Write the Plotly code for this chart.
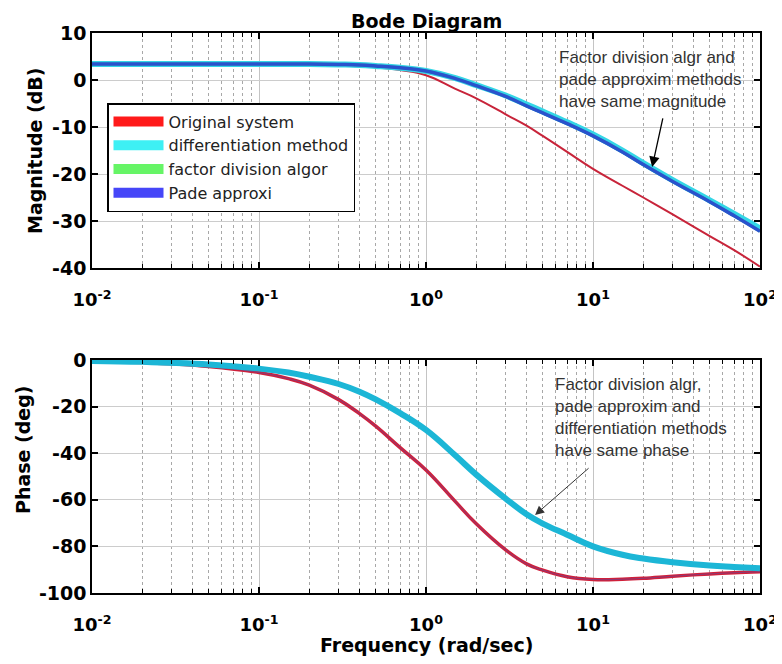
import math
import plotly.graph_objects as go
from plotly.subplots import make_subplots

# ---- data ----
freq = [0.01, 0.02, 0.05, 0.1, 0.15, 0.2, 0.3, 0.4, 0.5, 0.7, 1, 1.5, 2, 3, 4, 5, 7, 10, 15, 20, 30, 50, 70, 100]

mag_original = [3.3, 3.3, 3.3, 3.3, 3.3, 3.2, 3.1, 2.9, 2.7, 2.1, 1.0, -1.9, -3.9, -7.3, -9.7, -11.9, -15.3,
                -18.9, -22.5, -25.0, -28.6, -33.2, -36.2, -39.7]
mag_diff = [3.4, 3.4, 3.4, 3.4, 3.4, 3.4, 3.3, 3.2, 3.0, 2.6, 1.9, 0.4, -1.1, -3.3, -5.2, -6.7, -9.0, -11.6,
            -15.0, -17.7, -21.3, -25.6, -28.5, -31.6]
mag_factor = [3.4, 3.4, 3.4, 3.4, 3.4, 3.4, 3.3, 3.2, 3.0, 2.6, 1.9, 0.3, -1.2, -3.5, -5.5, -7.0, -9.3, -11.9,
              -15.3, -18.0, -21.6, -25.9, -28.9, -32.2]
mag_pade = [3.4, 3.4, 3.4, 3.4, 3.4, 3.4, 3.3, 3.2, 3.0, 2.6, 1.9, 0.3, -1.2, -3.5, -5.5, -7.0, -9.3, -11.9,
            -15.3, -18.0, -21.6, -25.9, -28.9, -32.2]

ph_original = [-0.6, -1.1, -2.8, -5.4, -8.0, -10.8, -17.0, -23.0, -28.4, -37.6, -47.2, -60.8, -70.3, -81.5,
               -87.5, -90.2, -93.0, -94.2, -94.1, -93.7, -92.8, -91.8, -91.3, -90.9]
ph_approx = [-0.4, -0.8, -1.9, -3.7, -5.4, -7.2, -10.3, -13.6, -16.9, -22.8, -30.0, -41.0, -49.2, -59.5,
             -66.2, -70.2, -75.0, -80.0, -83.6, -85.2, -86.8, -88.2, -88.8, -89.4]

series_names = ["Original system", "differentiation method", "factor division algor", "Pade approxi"]
legend_colors = ["#ff1a1a", "#3ef0f4", "#66f566", "#4646f8"]

x_tickvals = [0.01, 0.1, 1, 10, 100]
x_ticktext = ["10<sup>-2</sup>", "10<sup>-1</sup>", "10<sup>0</sup>", "10<sup>1</sup>", "10<sup>2</sup>"]
mag_ticks = [10, 0, -10, -20, -30, -40]
mag_ticktext = ["10", "0", "-10", "-20", "-30", "-40"]
ph_ticks = [0, -20, -40, -60, -80, -100]
ph_ticktext = ["0", "-20", "-40", "-60", "-80", "-100"]

# ---- figure (page has an 8px body margin) ----
OFF = 8
W, H = 782 - OFF, 664 - OFF
ML, MR, MT, MB = 92 - OFF, 22, 33 - OFF, 71
PW, PH = W - ML - MR, H - MT - MB


def px2x(px):
    return (px - OFF - ML) / PW


def py2y(py):
    return 1 - (py - OFF - MT) / PH


fig = make_subplots(rows=2, cols=1, shared_xaxes=False, vertical_spacing=0.05)


def spline(color, width):
    return dict(color=color, width=width, shape="spline", smoothing=1.2)


# magnitude
fig.add_trace(go.Scatter(x=freq, y=mag_original, mode="lines", line=spline("#c8243a", 2),
                         showlegend=False), row=1, col=1)
fig.add_trace(go.Scatter(x=freq, y=mag_diff, mode="lines", line=spline("#34d6e6", 6),
                         showlegend=False), row=1, col=1)
fig.add_trace(go.Scatter(x=freq, y=mag_factor, mode="lines", line=spline("#3cc8a8", 3),
                         showlegend=False), row=1, col=1)
fig.add_trace(go.Scatter(x=freq, y=mag_pade, mode="lines", line=spline("#2a52cc", 3.5),
                         showlegend=False), row=1, col=1)

# phase
fig.add_trace(go.Scatter(x=freq, y=ph_original, mode="lines", line=spline("#d0203a", 3.5),
                         showlegend=False), row=2, col=1)
fig.add_trace(go.Scatter(x=freq, y=ph_original, mode="lines", line=spline("#8a3a78", 1),
                         showlegend=False), row=2, col=1)
fig.add_trace(go.Scatter(x=freq, y=ph_approx, mode="lines", line=spline("#40d0a0", 3),
                         showlegend=False), row=2, col=1)
fig.add_trace(go.Scatter(x=freq, y=ph_approx, mode="lines", line=spline("#1cb6d6", 6),
                         showlegend=False), row=2, col=1)

# legend-only entries
for name, col in zip(series_names, legend_colors):
    fig.add_trace(go.Scatter(x=[None], y=[None], mode="lines", name=name,
                             line=dict(color=col, width=16)), row=1, col=1)

minor_vals = [m * 10.0 ** e for e in range(-2, 2) for m in range(2, 10)]
bold = dict(family="DejaVu Sans", size=19, color="black", weight="bold")
tickbold = dict(family="DejaVu Sans", size=18, color="black", weight="bold")

xcommon = dict(type="log", range=[-2, 2], tickvals=x_tickvals, ticktext=x_ticktext,
               showline=True, linecolor="black", linewidth=1.5, mirror="ticks",
               ticks="inside", ticklen=6, tickwidth=1.5, tickcolor="black",
               showgrid=True, gridcolor="#c4c4c4", gridwidth=1,
               tickfont=tickbold, ticklabelstandoff=15, zeroline=False,
               minor=dict(tickvals=minor_vals, ticks="inside", ticklen=4, tickcolor="black", tickwidth=1,
                          showgrid=True, gridcolor="#a8a8a8", griddash="dot", gridwidth=1))
ycommon = dict(showline=True, linecolor="black", linewidth=1.5, mirror="ticks",
               ticks="inside", ticklen=6, tickwidth=1.5, tickcolor="black",
               showgrid=True, gridcolor="#cccccc", gridwidth=1, zeroline=False,
               tickfont=bold, ticklabelstandoff=0)

fig.update_xaxes(**xcommon)
fig.update_yaxes(**ycommon)
fig.update_yaxes(range=[-40, 10], tickvals=mag_ticks, ticktext=mag_ticktext, domain=[py2y(268), 1], row=1, col=1)
fig.update_yaxes(range=[-100, 0], tickvals=ph_ticks, ticktext=ph_ticktext, domain=[0, py2y(360)], row=2, col=1)

fig.update_layout(
    width=W, height=H,
    margin=dict(l=ML, r=MR, t=MT, b=MB, autoexpand=False),
    paper_bgcolor="white", plot_bgcolor="white",
    font=dict(family="Liberation Sans, Arial", color="black"),
    showlegend=True,
    legend=dict(x=px2x(107), y=py2y(103), xanchor="left", yanchor="top",
                bgcolor="white", bordercolor="black", borderwidth=1.5,
                font=dict(family="DejaVu Sans", size=16, color="#222"),
                tracegroupgap=0, itemwidth=50),
)

annotations = [
    dict(text="Bode Diagram", x=px2x(426), y=py2y(21), xref="paper", yref="paper", showarrow=False,
         font=bold, xanchor="center", yanchor="middle"),
    dict(text="Frequency (rad/sec)", x=px2x(426), y=py2y(645), xref="paper", yref="paper", showarrow=False,
         font=bold, xanchor="center", yanchor="middle"),
    dict(text="Magnitude (dB)", x=px2x(35), y=py2y(150), xref="paper", yref="paper", showarrow=False,
         font=bold, textangle=-90, xanchor="center", yanchor="middle"),
    dict(text="Phase (deg)", x=px2x(23), y=py2y(450), xref="paper", yref="paper", showarrow=False,
         font=bold, textangle=-90, xanchor="center", yanchor="middle"),
    dict(text="Factor division algr and<br>pade approxim methods<br>have same magnitude",
         x=px2x(557), y=py2y(46), xref="paper", yref="paper", showarrow=False, align="left",
         xanchor="left", yanchor="top", font=dict(family="Liberation Sans, Arial", size=17, color="#333")),
    dict(text="Factor division algr,<br>pade approxim and<br>differentiation methods<br>have same phase",
         x=px2x(553), y=py2y(373), xref="paper", yref="paper", showarrow=False, align="left",
         xanchor="left", yanchor="top", font=dict(family="Liberation Sans, Arial", size=17, color="#333")),
    dict(text="", x=math.log10(22.6), y=-18.5, xref="x", yref="y", showarrow=True,
         ax=11, ay=-50, arrowhead=2, arrowsize=1.6, arrowwidth=1.3, arrowcolor="black"),
    dict(text="", x=math.log10(4.5), y=-66.5, xref="x2", yref="y2", showarrow=True,
         ax=55, ay=-48, arrowhead=2, arrowsize=1.8, arrowwidth=1, arrowcolor="#333"),
]
fig.update_layout(annotations=annotations)

fig.write_html("out.html")
